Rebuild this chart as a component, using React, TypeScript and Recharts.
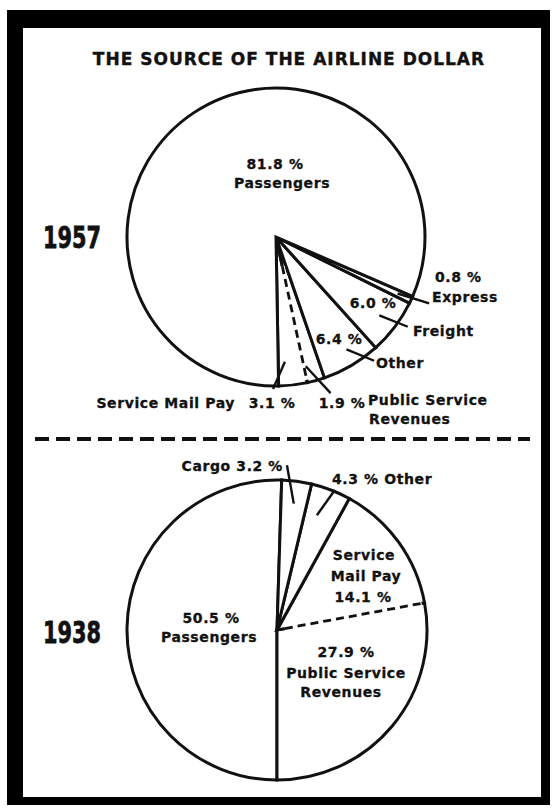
import React from 'react';
import { PieChart, Pie, Cell } from 'recharts';

const title = 'THE SOURCE OF THE AIRLINE DOLLAR';

const names1957 = ['Service Mail Pay', 'Public Service Revenues', 'Other', 'Freight', 'Express', 'Passengers'];
const shares1957 = [3.1, 1.9, 6.4, 6.0, 0.8, 81.8];

const names1938 = ['Passengers', 'Public Service Revenues', 'Service Mail Pay', 'Other', 'Cargo'];
const shares1938 = [50.5, 27.9, 14.1, 4.3, 3.2];

const years = ['1957', '1938'];

const data1957 = names1957.map((name, i) => ({ name, value: shares1957[i] }));
const data1938 = names1938.map((name, i) => ({ name, value: shares1938[i] }));

const INK = '#111';
const FONT = '"DejaVu Sans", sans-serif';
const RAD = Math.PI / 180;

// text: [content, dx, dy, anchor] relative to pie centre; '%' is replaced by the share
// leader: [angle offset from mid, radius factor, angle offset, radius factor]
type Spec = { texts: [string, number, number, string][]; leader?: number[] };

const layout1957: Record<string, Spec> = {
  Passengers: { texts: [['%', -1, -73, 'middle'], ['Passengers', 6, -54, 'middle']] },
  Express: { texts: [['%', 159, 40, 'start'], ['Express', 156, 60, 'start']], leader: [0, 0.9, 1.5, 1.12] },
  Freight: { texts: [['%', 97, 66, 'middle'], ['Freight', 137, 94, 'start']], leader: [0, 0.87, 2.9, 1.07] },
  Other: { texts: [['%', 63, 102, 'middle'], ['Other', 100, 126, 'start']], leader: [1.6, 0.89, 7.9, 1.06] },
  'Public Service Revenues': {
    texts: [['%', 66, 166, 'middle'], ['Public Service', 92, 163, 'start'], ['Revenues', 93, 182, 'start']],
    leader: [-2.6, 0.89, 3.7, 1.11],
  },
  'Service Mail Pay': {
    texts: [['Service Mail Pay', -41, 166, 'end'], ['%', -4, 166, 'middle']],
    leader: [-2.5, 0.84, -7.7, 1.02],
  },
};

const layout1938: Record<string, Spec> = {
  Passengers: { texts: [['%', -66, -12, 'middle'], ['Passengers', -68, 7, 'middle']] },
  'Public Service Revenues': {
    texts: [['%', 69, 22, 'middle'], ['Public Service', 69, 43, 'middle'], ['Revenues', 64, 62, 'middle']],
  },
  'Service Mail Pay': {
    texts: [['Service', 87, -75, 'middle'], ['Mail Pay', 89, -54, 'middle'], ['%', 86, -33, 'middle']],
  },
  Other: { texts: [['% Other', 55, -151, 'start']], leader: [1.9, 0.81, -1.4, 1.01] },
  Cargo: { texts: [['Cargo %', 6, -164, 'end']], leader: [0, 0.85, 4.1, 1.1] },
};

const pt = (cx: number, cy: number, r: number, a: number) => ({
  x: cx + r * Math.cos(-a * RAD),
  y: cy + r * Math.sin(-a * RAD),
});

const makeLabel = (layout: Record<string, Spec>, dashedAt: string, dashFrom: number) => (props: any) => {
  const { cx, cy, outerRadius, midAngle, startAngle, name, value, index } = props;
  const spec = layout[name];
  if (!spec) return null;
  const share = `${Number(value).toFixed(1)} %`;
  let dashed = null;
  if (name === dashedAt) {
    // mail pay / public service split is drawn dashed
    const a = pt(cx, cy, dashFrom, startAngle);
    const b = pt(cx, cy, outerRadius - 3, startAngle);
    const c = pt(cx, cy, outerRadius, startAngle);
    dashed = (
      <g>
        <line x1={a.x} y1={a.y} x2={b.x} y2={b.y} stroke="#fff" strokeWidth={4.5} />
        <line x1={a.x} y1={a.y} x2={c.x} y2={c.y} stroke={INK} strokeWidth={2.8} strokeDasharray="8 5" />
      </g>
    );
  }
  let leader = null;
  if (spec.leader) {
    const [a1, f1, a2, f2] = spec.leader;
    const p1 = pt(cx, cy, outerRadius * f1, midAngle + a1);
    const p2 = pt(cx, cy, outerRadius * f2, midAngle + a2);
    leader = <line x1={p1.x} y1={p1.y} x2={p2.x} y2={p2.y} stroke={INK} strokeWidth={2.4} />;
  }
  return (
    <g key={`lbl-${index}`}>
      {dashed}
      {leader}
      {spec.texts.map(([t, dx, dy, anchor], i) => (
        <text
          key={i}
          x={cx + dx}
          y={cy + dy}
          textAnchor={anchor as any}
          dominantBaseline="central"
          fontFamily={FONT}
          fontWeight="bold"
          fontSize={14}
          letterSpacing={0.6}
          fill={INK}
          stroke={INK}
          strokeWidth={0.3}
        >
          {t.replace('%', share)}
        </text>
      ))}
    </g>
  );
};

const Frame = () => (
  <svg width={554} height={810} style={{ position: 'absolute', left: 0, top: 0 }}>
    <rect x={7} y={10} width={543} height={795} fill="#000" />
    <rect x={23} y={28} width={518} height={769} fill="#fff" />
    <text
      x={289}
      y={59}
      textAnchor="middle"
      dominantBaseline="central"
      fontFamily={FONT}
      fontWeight="bold"
      fontSize={17}
      letterSpacing={1}
      fill={INK}
      stroke={INK}
      strokeWidth={0.4}
    >
      {title}
    </text>
    {years.map((y, i) => (
      <text
        key={y}
        x={43}
        y={i === 0 ? 237 : 632}
        textAnchor="start"
        dominantBaseline="central"
        fontFamily={FONT}
        fontWeight="bold"
        fontSize={31}
        textLength={58}
        lengthAdjust="spacingAndGlyphs"
        fill={INK}
        stroke={INK}
        strokeWidth={0.8}
      >
        {y}
      </text>
    ))}
    <line x1={35} y1={439} x2={530} y2={439} stroke={INK} strokeWidth={4} strokeDasharray="14 7" />
  </svg>
);

export default function App() {
  return (
    <div style={{ position: 'absolute', left: 0, top: 0, width: 554, height: 810, background: '#fff' }}>
      <Frame />
      <div style={{ position: 'absolute', left: 0, top: 0 }}>
        <PieChart width={554} height={810} margin={{ top: 0, right: 0, bottom: 0, left: 0 }}>
          <Pie
            data={data1957}
            dataKey="value"
            nameKey="name"
            cx={276}
            cy={237}
            outerRadius={149}
            startAngle={271}
            endAngle={631}
            labelLine={false}
            label={makeLabel(layout1957, 'Public Service Revenues', 30)}
            isAnimationActive={false}
          >
            {data1957.map((_d, i) => (
              <Cell key={`a-${i}`} fill="#fff" stroke={INK} strokeWidth={3} />
            ))}
          </Pie>
          <Pie
            data={data1938}
            dataKey="value"
            nameKey="name"
            cx={277}
            cy={630}
            outerRadius={150}
            startAngle={88.2}
            endAngle={448.2}
            labelLine={false}
            label={makeLabel(layout1938, 'Service Mail Pay', 8)}
            isAnimationActive={false}
          >
            {data1938.map((_d, i) => (
              <Cell key={`b-${i}`} fill="#fff" stroke={INK} strokeWidth={3} />
            ))}
          </Pie>
        </PieChart>
      </div>
    </div>
  );
}
